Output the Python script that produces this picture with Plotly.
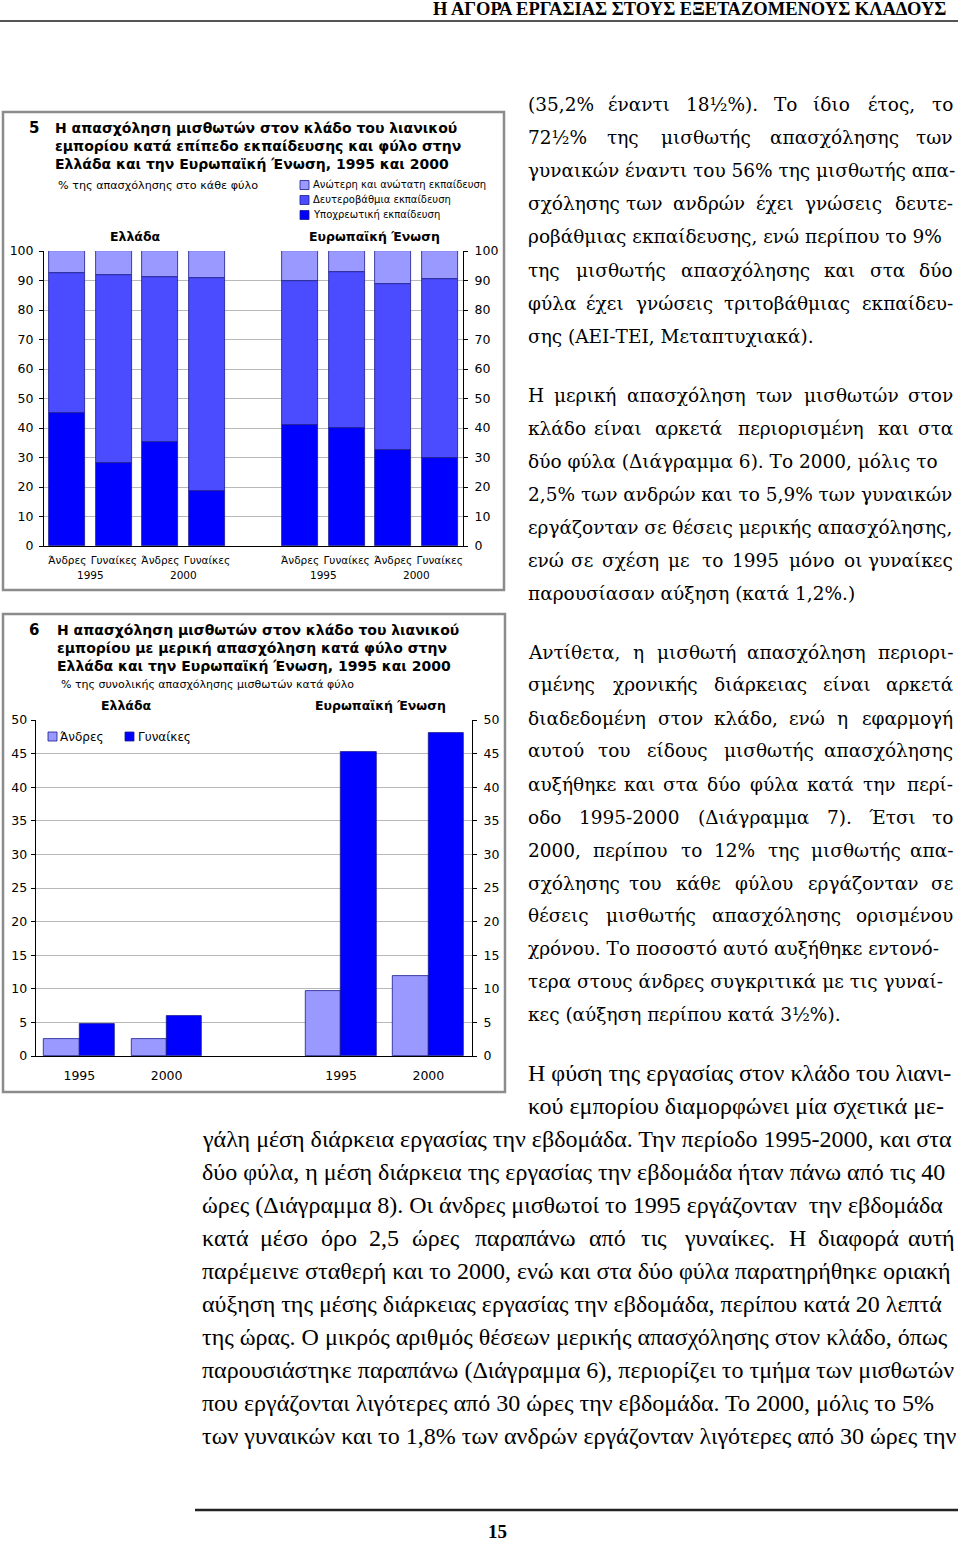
import plotly.graph_objects as go

W, H = 960, 1543

# ---------------- Chart 5 data ----------------
chart5_number = "5"
chart5_title = ["Η απασχόληση μισθωτών στον κλάδο του λιανικού",
                "εμπορίου κατά επίπεδο εκπαίδευσης και φύλο στην",
                "Ελλάδα και την Ευρωπαϊκή Ένωση, 1995 και 2000"]
chart5_subtitle = "% της απασχόλησης στο κάθε φύλο"
regions = ["Ελλάδα", "Ευρωπαϊκή Ένωση"]
sex_labels = ["Άνδρες", "Γυναίκες", "Άνδρες", "Γυναίκες"]
years = ["1995", "2000"]
edu_levels = ["Υποχρεωτική εκπαίδευση", "Δευτεροβάθμια εκπαίδευση",
              "Ανώτερη και ανώτατη εκπαίδευση"]
edu_colors = ["#0000FF", "#4B4BFF", "#9999FF"]
# order: Men 1995, Women 1995, Men 2000, Women 2000
compulsory_gr = [45.2, 28.1, 35.2, 18.5]
secondary_gr = [47.4, 63.7, 56.0, 72.5]
higher_gr = [7.4, 8.2, 8.8, 9.0]
compulsory_eu = [41.0, 40.1, 32.7, 29.8]
secondary_eu = [48.8, 52.7, 56.0, 60.7]
higher_eu = [10.2, 7.2, 11.3, 9.5]
y5_ticks = [0, 10, 20, 30, 40, 50, 60, 70, 80, 90, 100]

# ---------------- Chart 6 data ----------------
chart6_number = "6"
chart6_title = ["Η απασχόληση μισθωτών στον κλάδο του λιανικού",
                "εμπορίου με μερική απασχόληση κατά φύλο στην",
                "Ελλάδα και την Ευρωπαϊκή Ένωση, 1995 και 2000"]
chart6_subtitle = "% της συνολικής απασχόλησης μισθωτών κατά φύλο"
sexes = ["Άνδρες", "Γυναίκες"]
sex_colors = ["#9999FF", "#0000FF"]
parttime_men_gr = [2.6, 2.5]
parttime_women_gr = [4.7, 5.9]
parttime_men_eu = [9.7, 11.9]
parttime_women_eu = [45.3, 48.1]
y6_ticks = [0, 5, 10, 15, 20, 25, 30, 35, 40, 45, 50]

# ---------------- Page text ----------------
page_header = "Η ΑΓΟΡΑ ΕΡΓΑΣΙΑΣ ΣΤΟΥΣ ΕΞΕΤΑΖΟΜΕΝΟΥΣ ΚΛΑΔΟΥΣ"
page_number = "15"
para1 = ["(35,2% έναντι 18½%). Το ίδιο έτος, το",
         "72½% της μισθωτής απασχόλησης των",
         "γυναικών έναντι του 56% της μισθωτής απα-",
         "σχόλησης των ανδρών έχει γνώσεις δευτε-",
         "ροβάθμιας εκπαίδευσης, ενώ περίπου το 9%",
         "της μισθωτής απασχόλησης και στα δύο",
         "φύλα έχει γνώσεις τριτοβάθμιας εκπαίδευ-",
         "σης (ΑΕΙ-ΤΕΙ, Μεταπτυχιακά)."]
para2 = ["Η μερική απασχόληση των μισθωτών στον",
         "κλάδο είναι αρκετά περιορισμένη και στα",
         "δύο φύλα (Διάγραμμα 6). Το 2000, μόλις το",
         "2,5% των ανδρών και το 5,9% των γυναικών",
         "εργάζονταν σε θέσεις μερικής απασχόλησης,",
         "ενώ σε σχέση με το 1995 μόνο οι γυναίκες",
         "παρουσίασαν αύξηση (κατά 1,2%.)"]
para3 = ["Αντίθετα, η μισθωτή απασχόληση περιορι-",
         "σμένης χρονικής διάρκειας είναι αρκετά",
         "διαδεδομένη στον κλάδο, ενώ η εφαρμογή",
         "αυτού του είδους μισθωτής απασχόλησης",
         "αυξήθηκε και στα δύο φύλα κατά την περί-",
         "οδο 1995-2000 (Διάγραμμα 7). Έτσι το",
         "2000, περίπου το 12% της μισθωτής απα-",
         "σχόλησης του κάθε φύλου εργάζονταν σε",
         "θέσεις μισθωτής απασχόλησης ορισμένου",
         "χρόνου. Το ποσοστό αυτό αυξήθηκε εντονό-",
         "τερα στους άνδρες συγκριτικά με τις γυναί-",
         "κες (αύξηση περίπου κατά 3½%)."]
para4 = ["Η φύση της εργασίας στον κλάδο του λιανι-",
         "κού εμπορίου διαμορφώνει μία σχετικά με-",
         "γάλη μέση διάρκεια εργασίας την εβδομάδα. Την περίοδο 1995-2000, και στα",
         "δύο φύλα, η μέση διάρκεια της εργασίας την εβδομάδα ήταν πάνω από τις 40",
         "ώρες (Διάγραμμα 8). Οι άνδρες μισθωτοί το 1995 εργάζονταν  την εβδομάδα",
         "κατά μέσο όρο 2,5 ώρες παραπάνω από τις γυναίκες. Η διαφορά αυτή",
         "παρέμεινε σταθερή και το 2000, ενώ και στα δύο φύλα παρατηρήθηκε οριακή",
         "αύξηση της μέσης διάρκειας εργασίας την εβδομάδα, περίπου κατά 20 λεπτά",
         "της ώρας. Ο μικρός αριθμός θέσεων μερικής απασχόλησης στον κλάδο, όπως",
         "παρουσιάστηκε παραπάνω (Διάγραμμα 6), περιορίζει το τμήμα των μισθωτών",
         "που εργάζονται λιγότερες από 30 ώρες την εβδομάδα. Το 2000, μόλις το 5%",
         "των γυναικών και το 1,8% των ανδρών εργάζονταν λιγότερες από 30 ώρες την"]

SANS = "DejaVu Sans"
SERIF = "DejaVu Serif"
TIMES = "Liberation Serif"


def px(x):
    return x / W


def py(y):
    return 1 - y / H


annotations = []
shapes = []


def text(x, y, s, size, family=SANS, bold=False, anchor="left", color="#000"):
    if bold:
        s = "<b>" + s + "</b>"
    annotations.append(dict(x=px(x), y=py(y), xref="paper", yref="paper", text=s,
                            showarrow=False, xanchor=anchor, yanchor="middle",
                            font=dict(family=family, size=size, color=color)))


def rect(x0, y0, x1, y1, fill=None, line="#000", lw=1):
    shapes.append(dict(type="rect", xref="paper", yref="paper",
                       x0=px(x0), x1=px(x1), y0=py(y1), y1=py(y0),
                       fillcolor=fill if fill else "rgba(0,0,0,0)",
                       line=dict(color=line, width=lw)))


def hline(x0, x1, y, color="#000", lw=1):
    shapes.append(dict(type="line", xref="paper", yref="paper",
                       x0=px(x0), x1=px(x1), y0=py(y), y1=py(y),
                       line=dict(color=color, width=lw)))


# --- rough glyph-width model (em units) used to justify body text lines ---
NARROW = set("ιίϊΐ.,;:()-'’!|Ιl")
WIDE = set("μωώπφψΜΩΦΨmwMW")
DIGITS = set("0123456789")
METRICS = {
    SERIF: dict(narrow=0.34, digit=0.636, pct=0.95, wide=0.75, upper=0.72, lower=0.6, space=0.318),
    TIMES: dict(narrow=0.28, digit=0.5, pct=0.83, wide=0.62, upper=0.70, lower=0.485, space=0.25),
}


def est_width(word, size, family):
    m = METRICS[family]
    w = 0.0
    for ch in word:
        if ch in NARROW:
            w += m["narrow"]
        elif ch in DIGITS:
            w += m["digit"]
        elif ch in "%½":
            w += m["pct"]
        elif ch in WIDE:
            w += m["wide"]
        elif ch.isupper():
            w += m["upper"]
        else:
            w += m["lower"]
    return w * size


def body_line(s, x0, x1, y, size, family, justify=True):
    words = s.split()
    widths = [est_width(w, size, family) for w in words]
    natural = sum(widths) + METRICS[family]["space"] * size * (len(words) - 1)
    target = x1 - x0
    if (not justify) or len(words) < 2 or natural > 0.95 * target:
        text(x0, y, s, size, family=family)
        return
    gap = (target - sum(widths)) / (len(words) - 1)
    cur = x0
    for i, (w, wd) in enumerate(zip(words, widths)):
        if i == 0:
            text(x0, y, w, size, family=family, anchor="left")
        elif i == len(words) - 1:
            text(x1, y, w, size, family=family, anchor="right")
        else:
            text(cur + wd / 2, y, w, size, family=family, anchor="center")
        cur += wd + gap


fig = go.Figure()
OUTLINE = dict(color="#1A1A8C", width=0.8)

# ---------------- Chart 5 bars ----------------
n_per_region = len(sex_labels)
x5 = list(range(n_per_region)) + [n_per_region + 1 + i for i in range(n_per_region)]
comp = compulsory_gr + compulsory_eu
sec = secondary_gr + secondary_eu
hig = higher_gr + higher_eu
base_sec = comp
base_hig = [a + b for a, b in zip(comp, sec)]
for name, vals, base, col in [(edu_levels[0], comp, [0] * len(comp), edu_colors[0]),
                              (edu_levels[1], sec, base_sec, edu_colors[1]),
                              (edu_levels[2], hig, base_hig, edu_colors[2])]:
    fig.add_trace(go.Bar(x=x5, y=vals, base=base, width=0.77, name=name,
                         marker=dict(color=col, line=OUTLINE),
                         xaxis="x", yaxis="y", showlegend=False))
fig.add_trace(go.Scatter(x=[0], y=[0], xaxis="x", yaxis="y2", mode="markers",
                         marker=dict(opacity=0), hoverinfo="skip", showlegend=False))

# ---------------- Chart 6 bars ----------------
x6 = [0, 1, 3, 4]
men6 = parttime_men_gr + parttime_men_eu
women6 = parttime_women_gr + parttime_women_eu
fig.add_trace(go.Bar(x=x6, y=men6, width=0.405, offset=-0.405, name=sexes[0],
                     marker=dict(color=sex_colors[0], line=OUTLINE),
                     xaxis="x2", yaxis="y3", showlegend=False))
fig.add_trace(go.Bar(x=x6, y=women6, width=0.405, offset=0, name=sexes[1],
                     marker=dict(color=sex_colors[1], line=OUTLINE),
                     xaxis="x2", yaxis="y3", showlegend=False))
fig.add_trace(go.Scatter(x=[0], y=[0], xaxis="x2", yaxis="y4", mode="markers",
                         marker=dict(opacity=0), hoverinfo="skip", showlegend=False))

GRID = "#B8B8B8"
yax_common = dict(showline=True, linecolor="#000", linewidth=1, ticks="outside",
                  ticklen=4, tickcolor="#000", zeroline=False, automargin=False)

layout = dict(
    width=W, height=H, autosize=False,
    margin=dict(l=0, r=0, t=0, b=0, pad=0, autoexpand=False),
    paper_bgcolor="white", plot_bgcolor="white",
    barmode="overlay", bargap=0, showlegend=False,
    xaxis=dict(domain=[px(44), px(463)], range=[-0.5, 8.5], anchor="y",
               tickvals=x5, ticktext=sex_labels + sex_labels,
               tickfont=dict(family=SANS, size=10.5, color="#000"),
               showline=True, linecolor="#000", linewidth=1.2, ticks="",
               ticklabelstandoff=4, showgrid=False, zeroline=False, automargin=False),
    yaxis=dict(domain=[py(546), py(251)], range=[0, 100], anchor="x",
               tickvals=y5_ticks, tickfont=dict(family=SANS, size=12.5, color="#000"),
               showgrid=True, gridcolor=GRID, gridwidth=1, ticklabelstandoff=3,
               **yax_common),
    yaxis2=dict(overlaying="y", side="right", anchor="x", range=[0, 100],
                tickvals=y5_ticks, tickfont=dict(family=SANS, size=12.5, color="#000"),
                showgrid=False, ticklabelstandoff=4, **yax_common),
    xaxis2=dict(domain=[px(35.7), px(472)], range=[-0.5, 4.5], anchor="y3",
                tickvals=x6, ticktext=years + years,
                tickfont=dict(family=SANS, size=12.5, color="#000"),
                showline=True, linecolor="#000", linewidth=1.2, ticks="",
                ticklabelstandoff=8, showgrid=False, zeroline=False, automargin=False),
    yaxis3=dict(domain=[py(1056), py(720)], range=[0, 50], anchor="x2",
                tickvals=y6_ticks, tickfont=dict(family=SANS, size=12.5, color="#000"),
                showgrid=True, gridcolor=GRID, gridwidth=1, ticklabelstandoff=1,
                **yax_common),
    yaxis4=dict(overlaying="y3", side="right", anchor="x2", range=[0, 50],
                tickvals=y6_ticks, tickfont=dict(family=SANS, size=12.5, color="#000"),
                showgrid=False, ticklabelstandoff=4, **yax_common),
)

# ---------------- Chart 5 decorations ----------------
rect(3, 112, 504, 590, line="#8C8C8C", lw=2.5)
text(34, 128, chart5_number, 15, bold=True, anchor="center")
for i, line in enumerate(chart5_title):
    text(53, 128 + 18 * i, line, 14, bold=True)
text(56, 186, chart5_subtitle, 11.2)
leg_y = [185, 200, 215]
for i, lvl in enumerate(reversed(range(len(edu_levels)))):
    rect(300, leg_y[i] - 4.5, 309, leg_y[i] + 4.5, fill=edu_colors[lvl], line="#1A1A8C", lw=0.8)
    text(311, leg_y[i], edu_levels[lvl], 10)
text(135, 236, regions[0], 12.5, bold=True, anchor="center")
text(374, 236, regions[1], 12.5, bold=True, anchor="center")
for j, yr in enumerate(years * 2):
    xc = [0.5, 2.5, 5.5, 7.5][j]
    annotations.append(dict(x=xc, y=py(575), xref="x", yref="paper", text=yr,
                            showarrow=False, xanchor="center", yanchor="middle",
                            font=dict(family=SANS, size=10.5, color="#000")))

# ---------------- Chart 6 decorations ----------------
rect(3, 614, 505, 1092, line="#8C8C8C", lw=2.5)
text(34, 630, chart6_number, 15, bold=True, anchor="center")
for i, line in enumerate(chart6_title):
    text(55, 630 + 18 * i, line, 14, bold=True)
text(59, 684, chart6_subtitle, 11)
text(126, 705, regions[0], 12.5, bold=True, anchor="center")
text(380, 705, regions[1], 12.5, bold=True, anchor="center")
rect(48, 732, 57, 741, fill=sex_colors[0], line="#1A1A8C", lw=0.8)
text(58, 737, sexes[0], 12)
rect(125, 732, 134, 741, fill=sex_colors[1], line="#1A1A8C", lw=0.8)
text(136, 737, sexes[1], 12)

# ---------------- Page text ----------------
text(948, 9, page_header, 18.5, family=TIMES, bold=True, anchor="right")
hline(0, 958, 21, color="#555", lw=2)
for para, y0 in [(para1, 105), (para2, 395), (para3, 652)]:
    for i, s in enumerate(para):
        body_line(s, 526, 955, y0 + 33 * i, 18.5, SERIF, justify=(i < len(para) - 1))
for i, s in enumerate(para4):
    xs = 526 if i < 2 else 200
    body_line(s, xs, 957, 1073 + 33 * i, 24, TIMES, justify=True)
hline(195, 958, 1510, color="#222", lw=2.5)
text(497, 1531, page_number, 19, family=TIMES, bold=True, anchor="center")

layout["annotations"] = annotations
layout["shapes"] = shapes
fig.update_layout(**layout)

post = ("document.documentElement.style.margin='0';"
        "document.body.style.margin='0';document.body.style.padding='0';"
        "document.body.style.overflow='hidden';"
        "var d=document.getElementById('{plot_id}');"
        "d.style.position='absolute';d.style.left='0px';d.style.top='0px';")
fig.write_html("out.html", config={"displayModeBar": False}, post_script=post)
